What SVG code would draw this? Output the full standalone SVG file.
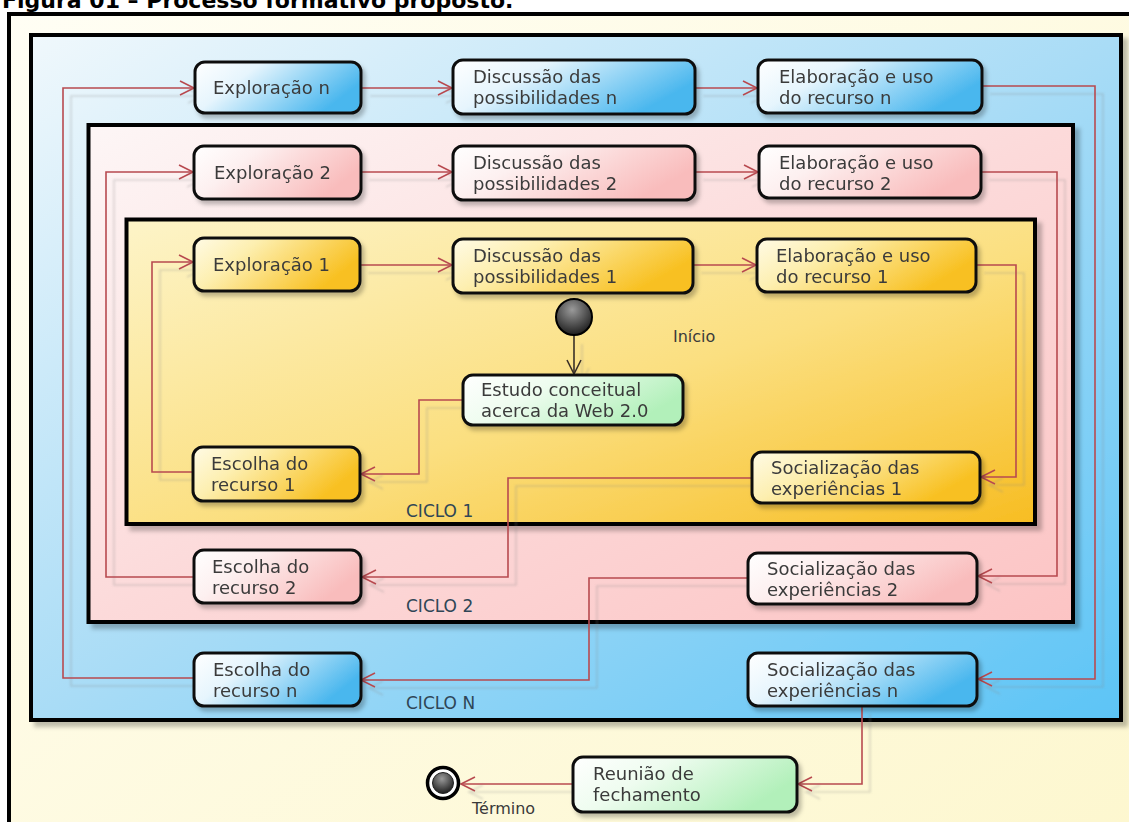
<svg xmlns="http://www.w3.org/2000/svg" width="1129" height="822" viewBox="0 0 1129 822">
<style>
.node{stroke:#111;stroke-width:3}
.lbl{font-family:"DejaVu Sans",sans-serif;font-size:18px;fill:#3a3a3a}
.cyc{font-family:"DejaVu Sans",sans-serif;font-size:17px;fill:#2f4656}
.small{font-family:"DejaVu Sans",sans-serif;font-size:16px;fill:#3a3a3a}
.cont{stroke:#000;stroke-width:4}
.conn{fill:none;stroke:#b84a50;stroke-width:1.6;marker-end:url(#arr)}
</style>
<defs>
<marker id="arr" viewBox="-16 -9 18 18" refX="0" refY="0" markerWidth="18" markerHeight="18" markerUnits="userSpaceOnUse" orient="auto">
<path d="M-14,-7 L0,0 L-14,7" fill="none" stroke="#b84a50" stroke-width="1.6"/>
</marker>
<marker id="arrd" viewBox="-16 -9 18 18" refX="0" refY="0" markerWidth="18" markerHeight="18" markerUnits="userSpaceOnUse" orient="auto">
<path d="M-14,-7 L0,0 L-14,7" fill="none" stroke="#3a3028" stroke-width="1.6"/>
</marker>
<filter id="sh" x="-10%" y="-10%" width="130%" height="140%"><feDropShadow dx="3" dy="4" stdDeviation="2" flood-color="#000" flood-opacity="0.25"/></filter>
<filter id="csh" x="-5%" y="-5%" width="110%" height="110%"><feDropShadow dx="5" dy="5" stdDeviation="2" flood-color="#000" flood-opacity="0.25"/></filter>
<filter id="lsh" x="-10%" y="-10%" width="120%" height="120%"><feDropShadow dx="8" dy="8" stdDeviation="0.8" flood-color="#888" flood-opacity="0.3"/></filter>
<linearGradient id="gOuter" x1="0" y1="0" x2="1" y2="1"><stop offset="0" stop-color="#fffef4"/><stop offset="1" stop-color="#fdf7cf"/></linearGradient>
<linearGradient id="gBlueC" x1="0" y1="0" x2="1" y2="1"><stop offset="0" stop-color="#f0f8fc"/><stop offset="0.5" stop-color="#a9dcf6"/><stop offset="1" stop-color="#5cc4f6"/></linearGradient>
<linearGradient id="gPinkC" x1="0" y1="0" x2="1" y2="1"><stop offset="0" stop-color="#fdf6f6"/><stop offset="0.5" stop-color="#fcdada"/><stop offset="1" stop-color="#fcc4c4"/></linearGradient>
<linearGradient id="gYelC" x1="0" y1="0" x2="1" y2="1"><stop offset="0" stop-color="#fdf4c8"/><stop offset="0.55" stop-color="#fbdf80"/><stop offset="1" stop-color="#f7bd22"/></linearGradient>
<linearGradient id="gBlue" x1="0" y1="0" x2="1" y2="0.4"><stop offset="0" stop-color="#ffffff"/><stop offset="0.35" stop-color="#e6f5fd"/><stop offset="1" stop-color="#4ab7ee"/></linearGradient>
<linearGradient id="gPink" x1="0" y1="0" x2="1" y2="0.4"><stop offset="0" stop-color="#ffffff"/><stop offset="0.35" stop-color="#fdf0f0"/><stop offset="1" stop-color="#f9bcbc"/></linearGradient>
<linearGradient id="gYel" x1="0" y1="0" x2="1" y2="0.4"><stop offset="0" stop-color="#fffbe6"/><stop offset="0.35" stop-color="#fdefb0"/><stop offset="1" stop-color="#f8c020"/></linearGradient>
<linearGradient id="gGreen" x1="0" y1="0" x2="1" y2="0.4"><stop offset="0" stop-color="#ffffff"/><stop offset="0.4" stop-color="#eefcef"/><stop offset="1" stop-color="#b2f0ba"/></linearGradient>
<radialGradient id="gDot" cx="0.45" cy="0.3" r="0.7"><stop offset="0" stop-color="#9a9a9a"/><stop offset="1" stop-color="#1e1e1e"/></radialGradient>
</defs>

<rect x="0" y="0" width="1129" height="822" fill="#ffffff"/>
<text x="2" y="8" font-family="'DejaVu Sans',sans-serif" font-size="22" font-weight="bold" fill="#000">Figura 01 – Processo formativo proposto.</text>

<g id="frames">
<rect x="9" y="14" width="1130" height="820" fill="url(#gOuter)" stroke="#000" stroke-width="4"/>
<rect class="cont" x="31" y="35" width="1090" height="685" fill="url(#gBlueC)" filter="url(#csh)"/>
<rect class="cont" x="88.5" y="125" width="984.5" height="497" fill="url(#gPinkC)" filter="url(#csh)"/>
<rect class="cont" x="126.5" y="219.5" width="908.5" height="304.5" fill="url(#gYelC)" filter="url(#csh)"/>
<text class="cyc" x="406" y="517">CICLO 1</text>
<text class="cyc" x="406" y="612">CICLO 2</text>
<text class="cyc" x="406" y="709">CICLO N</text>
</g>

<g id="connectors" filter="url(#lsh)">
<path class="conn" d="M362,88 H452"/>
<path class="conn" d="M695,88 H757"/>
<path class="conn" d="M982,86 H1095 V679 H978"/>
<path class="conn" d="M748,578 H589 V680 H361"/>
<path class="conn" d="M193,678 H63 V88 H194"/>
<path class="conn" d="M862,706 V784 H798"/>
<path class="conn" d="M573,784 H461"/>
<path class="conn" d="M361,172 H452"/>
<path class="conn" d="M695,172 H758"/>
<path class="conn" d="M981,172 H1057 V576 H978"/>
<path class="conn" d="M752,478 H508 V577 H362"/>
<path class="conn" d="M194,577 H106 V172 H193"/>
<path class="conn" d="M360,265 H452"/>
<path class="conn" d="M693,265 H756"/>
<path class="conn" d="M976,265 H1016 V477 H981"/>
<path class="conn" d="M463,400 H419 V474 H361"/>
<path class="conn" d="M194,472 H152 V262 H193"/>
<path d="M574,336 V374" fill="none" stroke="#3a3028" stroke-width="1.6" marker-end="url(#arrd)"/>
</g>

<g id="n-explor-n" filter="url(#sh)"><rect class="node" x="195" y="62" width="166" height="51" rx="10" fill="url(#gBlue)"/><text class="lbl" x="213" y="94">Exploração n</text></g>
<g id="n-disc-n" filter="url(#sh)"><rect class="node" x="453" y="60" width="242" height="54" rx="10" fill="url(#gBlue)"/><text class="lbl" x="473" y="83">Discussão das</text><text class="lbl" x="473" y="104">possibilidades n</text></g>
<g id="n-elab-n" filter="url(#sh)"><rect class="node" x="758" y="60" width="224" height="53" rx="10" fill="url(#gBlue)"/><text class="lbl" x="779" y="83">Elaboração e uso</text><text class="lbl" x="779" y="104">do recurso n</text></g>

<g id="n-explor-2" filter="url(#sh)"><rect class="node" x="194" y="146" width="167" height="53" rx="10" fill="url(#gPink)"/><text class="lbl" x="214" y="179">Exploração 2</text></g>
<g id="n-disc-2" filter="url(#sh)"><rect class="node" x="453" y="146" width="242" height="54" rx="10" fill="url(#gPink)"/><text class="lbl" x="473" y="169">Discussão das</text><text class="lbl" x="473" y="190">possibilidades 2</text></g>
<g id="n-elab-2" filter="url(#sh)"><rect class="node" x="759" y="146" width="222" height="52" rx="10" fill="url(#gPink)"/><text class="lbl" x="779" y="169">Elaboração e uso</text><text class="lbl" x="779" y="190">do recurso 2</text></g>

<g id="n-explor-1" filter="url(#sh)"><rect class="node" x="194" y="238" width="166" height="53" rx="10" fill="url(#gYel)"/><text class="lbl" x="213" y="271">Exploração 1</text></g>
<g id="n-disc-1" filter="url(#sh)"><rect class="node" x="453" y="239" width="240" height="54" rx="10" fill="url(#gYel)"/><text class="lbl" x="473" y="262">Discussão das</text><text class="lbl" x="473" y="283">possibilidades 1</text></g>
<g id="n-elab-1" filter="url(#sh)"><rect class="node" x="757" y="239" width="219" height="53" rx="10" fill="url(#gYel)"/><text class="lbl" x="776" y="262">Elaboração e uso</text><text class="lbl" x="776" y="283">do recurso 1</text></g>

<g id="n-inicio"><circle cx="574" cy="317" r="18" fill="url(#gDot)" stroke="#000" stroke-width="2"/><text class="small" x="673" y="342">Início</text></g>
<g id="n-estudo" filter="url(#sh)"><rect class="node" x="463" y="375" width="220" height="50" rx="10" fill="url(#gGreen)"/><text class="lbl" x="481" y="396">Estudo conceitual</text><text class="lbl" x="481" y="417">acerca da Web 2.0</text></g>

<g id="n-esc-1" filter="url(#sh)"><rect class="node" x="193" y="447" width="167" height="54" rx="10" fill="url(#gYel)"/><text class="lbl" x="211" y="470">Escolha do</text><text class="lbl" x="211" y="491">recurso 1</text></g>
<g id="n-soc-1" filter="url(#sh)"><rect class="node" x="752" y="452" width="228" height="51" rx="10" fill="url(#gYel)"/><text class="lbl" x="771" y="474">Socialização das</text><text class="lbl" x="771" y="495">experiências 1</text></g>

<g id="n-esc-2" filter="url(#sh)"><rect class="node" x="194" y="550" width="167" height="53" rx="10" fill="url(#gPink)"/><text class="lbl" x="212" y="573">Escolha do</text><text class="lbl" x="212" y="594">recurso 2</text></g>
<g id="n-soc-2" filter="url(#sh)"><rect class="node" x="748" y="553" width="229" height="51" rx="10" fill="url(#gPink)"/><text class="lbl" x="767" y="575">Socialização das</text><text class="lbl" x="767" y="596">experiências 2</text></g>

<g id="n-esc-n" filter="url(#sh)"><rect class="node" x="194" y="653" width="167" height="53" rx="10" fill="url(#gBlue)"/><text class="lbl" x="213" y="676">Escolha do</text><text class="lbl" x="213" y="697">recurso n</text></g>
<g id="n-soc-n" filter="url(#sh)"><rect class="node" x="748" y="653" width="229" height="53" rx="10" fill="url(#gBlue)"/><text class="lbl" x="767" y="676">Socialização das</text><text class="lbl" x="767" y="697">experiências n</text></g>

<g id="n-reuniao" filter="url(#sh)"><rect class="node" x="573" y="757" width="224" height="55" rx="10" fill="url(#gGreen)"/><text class="lbl" x="593" y="780">Reunião de</text><text class="lbl" x="593" y="801">fechamento</text></g>
<g id="n-termino"><circle cx="443" cy="783" r="15.5" fill="#fff" stroke="#000" stroke-width="3.5"/><circle cx="443" cy="783" r="10.5" fill="url(#gDot)" stroke="#222" stroke-width="1"/><text class="small" x="472" y="814">Término</text></g>
</svg>
